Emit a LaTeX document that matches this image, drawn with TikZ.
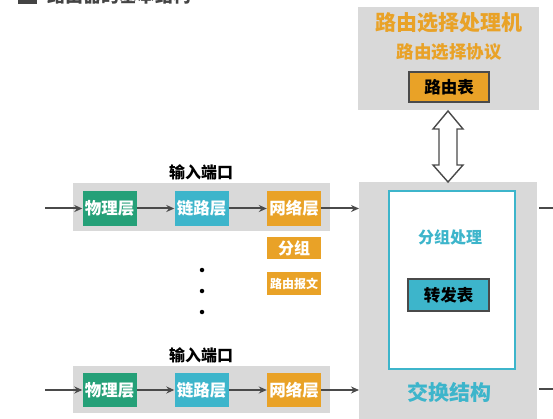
\documentclass[tikz,border=0pt]{standalone}
\usepackage{fontspec}
\setmainfont{Noto Sans CJK SC}
\usetikzlibrary{arrows.meta,calc}
\definecolor{grn}{HTML}{25A078}
\definecolor{tea}{HTML}{3DB5CB}
\definecolor{org}{HTML}{E9A227}
\definecolor{gbg}{HTML}{D9D9D9}
\definecolor{arr}{HTML}{4A4A4A}
\definecolor{ttl}{HTML}{444444}
\begin{document}
\begin{tikzpicture}[x=1pt,y=-1pt,
  graybox/.style={fill=gbg, draw=none, inner sep=0},
  layer/.style={minimum width=54pt, minimum height=35pt, inner sep=0, text=white, font=\fontsize{16.5}{16.5}\bfseries},
  tag/.style={fill=org, minimum width=54pt, inner sep=0, text=white, font=\bfseries},
  tablebox/.style={draw=arr, line width=1.6pt, inner sep=0, minimum width=80pt, minimum height=30pt, text=black, font=\fontsize{16.5}{16.5}\bfseries},
  label/.style={font=\fontsize{16}{16}\bfseries, inner sep=0},
  heading/.style={inner sep=0, font=\bfseries},
  conn/.style={draw=arr, line width=2pt, -{Stealth[length=8pt,width=7pt]}},
  dot/.style={circle, fill=black, inner sep=0, minimum size=4.5pt}]
\useasboundingbox (0,0) rectangle (553,419);

% cropped title
\node[fill=ttl, minimum width=19pt, minimum height=14pt, inner sep=0, anchor=south west] (tsq) at (18,4) {};
\node[font=\fontsize{18}{18}\bfseries, text=ttl, inner sep=0, anchor=south west] (title) at (47,4) {路由器的基本结构};

% routing processor
\path[fill=gbg] (358,7) rectangle (539,110);
\node[heading, text=org, font=\fontsize{21}{21}\bfseries] (rp1) at (449,23) {路由选择处理机};
\node[heading, text=org, font=\fontsize{17.5}{17.5}\bfseries] (rp2) at (449,52) {路由选择协议};
\node[tablebox, fill=org] (rt) at (449,87) {路由表};

% switch fabric
\node[graybox, minimum width=178pt, minimum height=243pt, anchor=north west] (sw) at (359,182) {};
\node[draw=tea, line width=2pt, fill=white, minimum width=126pt, minimum height=178pt, inner sep=0, anchor=north west] (inner) at (388,190) {};
\node[heading, text=tea, font=\fontsize{16}{16}\bfseries] (pp) at (450,237) {分组处理};
\node[tablebox, fill=tea, minimum width=81pt, minimum height=32pt] (ft) at (448.5,295) {转发表};
\node[heading, text=tea, font=\fontsize{21}{21}\bfseries] (sf) at (449,392) {交换结构};

% double arrow between routing processor and switch fabric
\draw[arr, line width=1.4pt, fill=white, line join=miter]
  (448,111) -- (463,129) -- (457,129) -- (457,165) -- (463,165) -- (448,182)
  -- (433,165) -- (439,165) -- (439,129) -- (433,129) -- cycle;

% input port 1
\node[label] (lab1) at (201,172) {输入端口};
\node[graybox, minimum width=257pt, minimum height=48pt] (port1) at (201.5,207) {};
\node[layer, fill=grn] (phy1) at (109.5,208.5) {物理层};
\node[layer, fill=tea] (lnk1) at (201.5,208.5) {链路层};
\node[layer, fill=org] (net1) at (294,208.5) {网络层};
\coordinate (in1) at (45,208.5);
\draw[conn] (in1) -- (phy1);
\draw[conn] (phy1) -- (lnk1);
\draw[conn] (lnk1) -- (net1);
\draw[conn] (net1.east) -- (net1.east -| sw.west);

\node[tag, minimum height=22pt, font=\fontsize{16}{16}\bfseries] (pkt) at (294,248) {分组};
\node[tag, minimum height=23pt, font=\fontsize{12}{12}\bfseries] (rmsg) at (294,283.5) {路由报文};

\node[dot] (d1) at (202,270) {};
\node[dot] (d2) at (202,291) {};
\node[dot] (d3) at (202,312) {};

% input port 2
\node[label] (lab2) at (201,355) {输入端口};
\node[graybox, minimum width=257pt, minimum height=47pt] (port2) at (201.5,389.5) {};
\node[layer, fill=grn, minimum height=34pt] (phy2) at (109.5,390) {物理层};
\node[layer, fill=tea, minimum height=34pt] (lnk2) at (201.5,390) {链路层};
\node[layer, fill=org, minimum height=34pt] (net2) at (294,390) {网络层};
\coordinate (in2) at (45,390);
\draw[conn] (in2) -- (phy2);
\draw[conn] (phy2) -- (lnk2);
\draw[conn] (lnk2) -- (net2);
\draw[conn] (net2.east) -- (net2.east -| sw.west);

% outputs leaving on the right
\coordinate (o1s) at (539,208);
\coordinate (o1) at (566,208);
\coordinate (o2s) at (539,389);
\coordinate (o2) at (566,389);
\draw[conn] (o1s) -- (o1);
\draw[conn] (o2s) -- (o2);
\end{tikzpicture}
\end{document}
